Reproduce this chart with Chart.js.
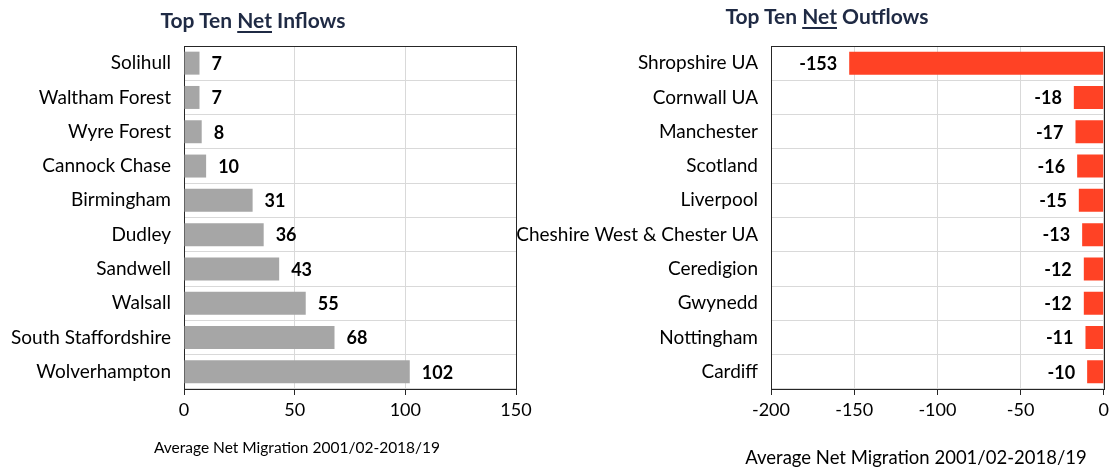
<!DOCTYPE html>
<html>
<head>
<meta charset="utf-8">
<script src="https://cdn.jsdelivr.net/npm/chart.js@4/dist/chart.umd.min.js"></script>
<style>
  body { margin: 0; background: #fff; width: 1113px; height: 468px; overflow: hidden; position: relative; font-family: Lato, "Open Sans", sans-serif; }
  .box { position: absolute; top: 0; height: 468px; }
  .title { position: absolute; font-weight: bold; font-size: 21px; color: #1f2a44; white-space: nowrap; transform: translateX(-50%); }
  .title u { text-decoration-thickness: 2px; text-underline-offset: 3px; }
  .axis { position: absolute; color: #000; white-space: nowrap; transform: translate(-50%, -50%); }
</style>
</head>
<body>
<div class="box" style="left:0; width:540px;"><canvas id="inflowChart"></canvas></div>
<div class="box" style="left:500px; width:613px;"><canvas id="outflowChart"></canvas></div>
<div class="title" style="left:253px; top:7px;">Top Ten <u>Net</u> Inflows</div>
<div class="title" style="left:827px; top:3px;">Top Ten <u>Net</u> Outflows</div>
<div class="axis" style="left:297px; top:447px; font-size:15.5px;">Average Net Migration 2001/02-2018/19</div>
<div class="axis" style="left:916px; top:457px; font-size:18.5px;">Average Net Migration 2001/02-2018/19</div>
<script>
const inflowPlaces = ["Solihull", "Waltham Forest", "Wyre Forest", "Cannock Chase", "Birmingham",
  "Dudley", "Sandwell", "Walsall", "South Staffordshire", "Wolverhampton"];
const inflowValues = [7, 7, 8, 10, 31, 36, 43, 55, 68, 102];

const outflowPlaces = ["Shropshire UA", "Cornwall UA", "Manchester", "Scotland", "Liverpool",
  "Cheshire West & Chester UA", "Ceredigion", "Gwynedd", "Nottingham", "Cardiff"];
const outflowValues = [-153, -18, -17, -16, -15, -13, -12, -12, -11, -10];

const inflowTicks = [0, 50, 100, 150];
const outflowTicks = [-200, -150, -100, -50, 0];

const FONT = "Lato, 'Open Sans', sans-serif";

// frame round the plot area, under the bars
const plotFrame = {
  id: "plotFrame",
  beforeDatasetsDraw(chart) {
    const a = chart.chartArea, ctx = chart.ctx;
    ctx.save();
    ctx.strokeStyle = "#262626";
    ctx.lineWidth = 1;
    ctx.strokeRect(Math.round(a.left) + 0.5, Math.round(a.top) + 0.5,
      Math.round(a.right - a.left), Math.round(a.bottom - a.top));
    ctx.restore();
  }
};

// bold value next to the end of each bar
const valueLabels = {
  id: "valueLabels",
  afterDatasetsDraw(chart) {
    const ctx = chart.ctx;
    const meta = chart.getDatasetMeta(0);
    const values = chart.data.datasets[0].data;
    ctx.save();
    ctx.font = "bold 18px " + FONT;
    ctx.fillStyle = "#000";
    ctx.textBaseline = "middle";
    meta.data.forEach((bar, i) => {
      const v = values[i];
      if (v >= 0) {
        ctx.textAlign = "left";
        ctx.fillText(String(v), bar.x + 12, bar.y + 1);
      } else {
        ctx.textAlign = "right";
        ctx.fillText(String(v), bar.x - 12, bar.y + 1);
      }
    });
    ctx.restore();
  }
};

function makeChart(id, labels, values, color, ticks, yWidth, rightPad) {
  const ctx = document.getElementById(id);
  return new Chart(ctx, {
    type: "bar",
    data: {
      labels: labels,
      datasets: [{
        data: values,
        backgroundColor: color,
        borderWidth: 0,
        barPercentage: 0.67,
        categoryPercentage: 1
      }]
    },
    options: {
      indexAxis: "y",
      responsive: true,
      maintainAspectRatio: false,
      animation: false,
      layout: { padding: { top: 46, right: rightPad, left: 0, bottom: 0 } },
      plugins: { legend: { display: false }, tooltip: { enabled: false } },
      scales: {
        x: {
          min: ticks[0],
          max: ticks[ticks.length - 1],
          afterBuildTicks(scale) { scale.ticks = ticks.map(v => ({ value: v })); },
          afterFit(scale) { scale.height = 79; },
          grid: { color: "#d9d9d9", lineWidth: 1, drawTicks: true, tickLength: 6, tickColor: "#262626" },
          border: { color: "#262626", width: 1 },
          ticks: { color: "#000", font: { family: FONT, size: 18 }, padding: 4 }
        },
        y: {
          afterFit(scale) { scale.width = yWidth; },
          grid: { color: "#d9d9d9", lineWidth: 1, offset: true, drawTicks: false },
          border: { color: "#262626", width: 1 },
          ticks: { color: "#000", font: { family: FONT, size: 19 }, padding: 13 }
        }
      }
    },
    plugins: [plotFrame, valueLabels]
  });
}

makeChart("inflowChart", inflowPlaces, inflowValues, "#a6a6a6", inflowTicks, 184, 24);
makeChart("outflowChart", outflowPlaces, outflowValues, "#ff4225", outflowTicks, 271, 8);
</script>
</body>
</html>
